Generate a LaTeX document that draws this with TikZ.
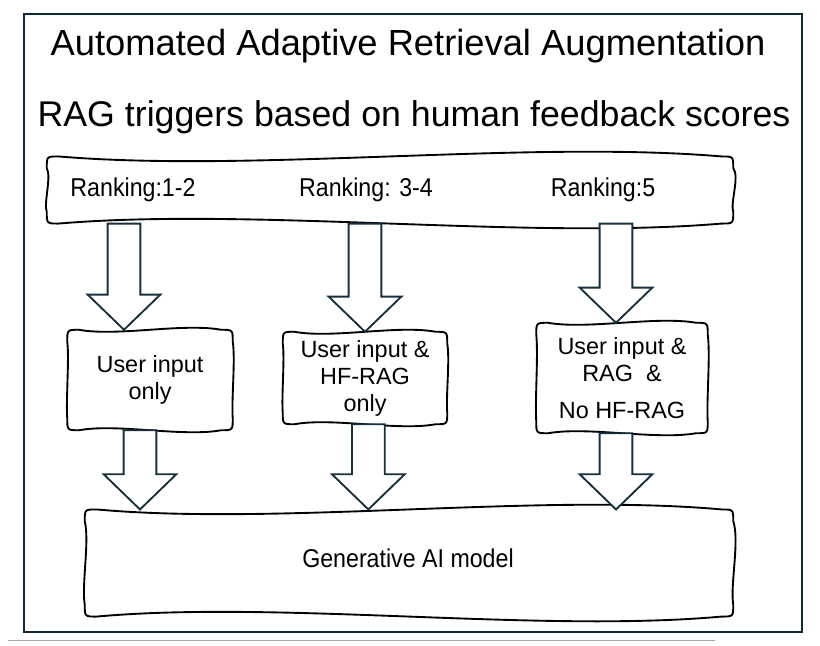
\documentclass[tikz,border=0pt]{standalone}
\usepackage{fontspec}
\setmainfont{Liberation Sans}
\newfontfamily\narrowfont[FakeStretch=0.9]{Liberation Sans}
\usetikzlibrary{calc}
\definecolor{framecol}{HTML}{0F2836}
\definecolor{arrowcol}{HTML}{17303D}

\tikzset{
  outline/.style={draw=black, line width=1.6pt, line join=round},
  fatarrow/.style={draw=arrowcol, line width=1.6pt, fill=white, line join=miter},
  holder/.style={draw=none, inner sep=0pt},
  ranktext/.style={font=\narrowfont\fontsize{22}{26}\selectfont},
  boxtext/.style={align=center, font=\fontsize{20}{23}\selectfont},
}

% hand drawn outline round a node: #1 wave size, #2 node name
\newcommand\handbox[2][3pt]{%
  \draw[outline]
    ([xshift=10pt]#2.north west)
      .. controls ($(#2.north west)!0.3!(#2.north east)+(0,-#1)$) and ($(#2.north west)!0.7!(#2.north east)+(0,#1)$) .. ([xshift=-10pt]#2.north east)
      .. controls (#2.north east) .. ([yshift=-10pt]#2.north east)
      .. controls ($(#2.north east)!0.3!(#2.south east)+(0.4*#1,0)$) and ($(#2.north east)!0.7!(#2.south east)+(-0.2*#1,0)$) .. ([yshift=10pt]#2.south east)
      .. controls (#2.south east) .. ([xshift=-10pt]#2.south east)
      .. controls ($(#2.south east)!0.3!(#2.south west)+(0,-#1)$) and ($(#2.south east)!0.7!(#2.south west)+(0,#1)$) .. ([xshift=10pt]#2.south west)
      .. controls (#2.south west) .. ([yshift=10pt]#2.south west)
      .. controls ($(#2.south west)!0.3!(#2.north west)+(-0.2*#1,0)$) and ($(#2.south west)!0.7!(#2.north west)+(0.3*#1,0)$) .. ([yshift=-10pt]#2.north west)
      .. controls (#2.north west) .. cycle;}

% hollow block arrow from #1 down to #2
\newcommand\blockarrow[2]{%
  \draw[fatarrow] let \p1=#1, \p2=#2 in
    (\x1-14pt,\y1) -- (\x1-14pt,\y2+30pt) -- (\x1-31pt,\y2+30pt) -- (\x2,\y2)
    -- (\x1+31pt,\y2+30pt) -- (\x1+14pt,\y2+30pt) -- (\x1+14pt,\y1) -- cycle;}

\begin{document}
\begin{tikzpicture}[x=0.03cm,y=-0.03cm]
	\useasboundingbox (0,0) rectangle (820,645);
	\draw[framecol, line width=2.2pt] (24,14) rectangle (802,632); % frame
	\draw[gray!70, line width=0.6pt] (8,640) -- (715,640); % rule under frame

	\node (title) at (408,46) {\fontsize{31}{34}\selectfont Automated Adaptive Retrieval Augmentation};
	\node (subtitle) at (414,117) {\fontsize{30.5}{34}\selectfont RAG triggers based on human feedback scores};

	% ranking banner
	\node[holder, minimum width=20.58cm, minimum height=2.0cm] (ranks) at (390,190) {};
	\handbox[14pt]{ranks}
	\node[ranktext] (rank12) at (133,190) {Ranking:1-2};
	\node[ranktext] (rank34) at (366,190) {Ranking: 3-4};
	\node[ranktext] (rank5) at (603,190) {Ranking:5};

	% prompt boxes
	\node[holder, boxtext, minimum width=4.95cm, minimum height=3.0cm] (box1) at (150,380) {User input\\only};
	\node[holder, boxtext, minimum width=4.92cm, minimum height=2.76cm] (box2) at (365,378) {User input \&\\HF-RAG\\only};
	\node[holder, boxtext, minimum width=5.13cm, minimum height=3.3cm] (box3) at (622,378) {User input \&\\RAG~~\&\\[8pt]No HF-RAG};
	\handbox[6pt]{box1}
	\handbox[6pt]{box2}
	\handbox[6pt]{box3}

	% model banner
	\node[holder, minimum width=19.44cm, minimum height=3.2cm] (model) at (409,563) {};
	\handbox[14pt]{model}
	\node[ranktext] (modeltext) at (408,558) {Generative AI model};

	% arrows banner -> boxes
	\blockarrow{([xshift=-0.78cm]ranks.south -| box1.north)}{([xshift=-0.78cm]box1.north)}
	\blockarrow{(ranks.south -| box2.north)}{(box2.north)}
	\blockarrow{([xshift=-0.18cm]ranks.south -| box3.north)}{([xshift=-0.18cm]box3.north)}

	% arrows boxes -> model
	\blockarrow{([xshift=-0.3cm]box1.south)}{([xshift=-0.3cm]box1.south |- model.north)}
	\blockarrow{([xshift=0.1cm]box2.south)}{([xshift=0.1cm]box2.south |- model.north)}
	\blockarrow{([xshift=-0.18cm]box3.south)}{([xshift=-0.18cm]box3.south |- model.north)}
\end{tikzpicture}
\end{document}
